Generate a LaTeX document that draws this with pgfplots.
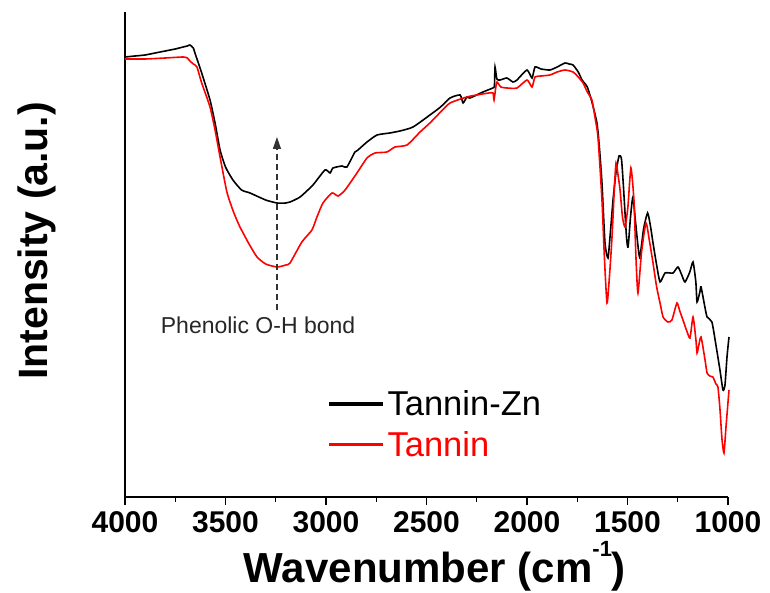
\documentclass[border=0pt]{standalone}
\usepackage{fontspec}
\setmainfont{Liberation Sans}
\usepackage{pgfplots}
\pgfplotsset{compat=1.18}
\usetikzlibrary{arrows.meta}
\begin{document}
\begin{tikzpicture}
\begin{axis}[
  width=603pt, height=485pt, scale only axis,
  xmin=1000, xmax=4000, x dir=reverse,
  ymin=0, ymax=485,
  axis x line*=bottom, axis y line*=left,
  xtick={1000,1500,2000,2500,3000,3500,4000},
  minor x tick num=1,
  ytick=\empty,
  tick align=outside,
  major tick length=8pt, minor tick length=5pt,
  every tick/.style={black, line width=1.2pt},
  axis line style={-, line width=1.3pt},
  /pgf/number format/assume math mode=true,
  /pgf/number format/1000 sep={},
  xticklabel style={font=\fontsize{30}{30}\selectfont\bfseries, yshift=-3pt},
  xlabel={\bfseries Wavenumber (cm\raisebox{0.62em}{\fontsize{22}{22}\selectfont -1})},
  ylabel={\bfseries Intensity (a.u.)},
  xlabel style={font=\fontsize{42}{42}\selectfont, at={(axis description cs:0.514,-0.177)}, anchor=base},
  ylabel style={font=\fontsize{41}{41}\selectfont, at={(axis description cs:-0.146,0.528)}, anchor=center},
  legend style={at={(axis description cs:0.333,0.15)}, anchor=west, draw=none, fill=none,
    font=\fontsize{34.5}{36}\selectfont, cells={anchor=west}, row sep=10pt,
    nodes={inner xsep=5pt}},
  legend image code/.code={\fill[#1] (0pt,-0.85pt) rectangle (52pt,0.85pt);},
  clip=false,
]
\coordinate (SW) at (axis description cs:0,0);
\coordinate (NE) at (axis description cs:1,1);
\addplot[black, line width=1.6pt, smooth, tension=0.35] coordinates {
(4000,440) (3950,441) (3900,442) (3850,444) (3800,446) (3750,448) (3711,450) (3690,451)
(3677,452) (3660,449) (3652,444) (3620,425) (3577,397) (3550,372) (3527,347) (3500,330)
(3463,317) (3420,307) (3378,304) (3300,297) (3244,294) (3200,294) (3179,295) (3129,300)
(3065,312) (3005,327) (2980,324) (2965,329) (2920,331) (2896,330) (2856,345) (2841,347)
(2796,355) (2746,362) (2682,364) (2657,365) (2632,366) (2567,370) (2483,382) (2430,390)
(2383,399) (2333,402) (2318,394) (2299,400) (2284,399) (2219,405) (2170,409) (2162,411)
(2159,430) (2150,418) (2134,417) (2100,419) (2070,415) (2050,417) (2000,427) (1975,419)
(1960,430) (1930,428) (1886,427) (1850,430) (1811,434) (1790,433) (1771,432) (1745,425)
(1726,417) (1700,410) (1677,395) (1652,374) (1640,350) (1627,314) (1612,254) (1597,239)
(1585,265) (1572,297) (1557,325) (1542,341) (1530,338) (1520,310) (1505,260) (1497,250)
(1485,280) (1473,300) (1460,275) (1440,240) (1420,268) (1400,284) (1385,270) (1373,254)
(1355,232) (1338,215) (1313,224) (1274,224) (1249,230) (1230,222) (1214,215) (1190,225)
(1174,235) (1160,215) (1154,195) (1140,205) (1134,210) (1115,190) (1104,180) (1080,175)
(1060,152) (1040,127) (1025,107) (1015,112) (1005,140) (995,160)
};
\addlegendentry{Tannin-Zn}
\addplot[red, line width=1.6pt, smooth, tension=0.35] coordinates {
(4000,438) (3900,438) (3800,439) (3711,440) (3690,439) (3677,436) (3660,433) (3642,430)
(3620,415) (3577,390) (3550,365) (3527,340) (3493,305) (3460,285) (3428,270) (3380,252)
(3343,240) (3300,233) (3244,230) (3200,232) (3179,234) (3120,255) (3070,267) (3045,280)
(3015,294) (2970,304) (2940,301) (2905,307) (2846,324) (2796,339) (2756,344) (2697,345)
(2657,350) (2597,352) (2532,365) (2483,374) (2430,385) (2383,394) (2299,400) (2250,402)
(2190,404) (2169,404) (2164,397) (2155,410) (2149,415) (2130,410) (2100,409) (2050,409)
(2000,417) (1975,410) (1960,420) (1930,421) (1886,422) (1850,425) (1811,427) (1771,425)
(1745,420) (1721,414) (1700,405) (1677,397) (1662,380) (1647,360) (1627,297) (1615,240)
(1602,194) (1590,220) (1577,260) (1565,310) (1557,334) (1547,322) (1537,307) (1525,280)
(1512,270) (1498,290) (1483,329) (1468,297) (1458,240) (1448,204) (1430,245) (1408,274)
(1390,255) (1373,234) (1355,210) (1338,194) (1323,180) (1299,175) (1279,177) (1254,194)
(1240,186) (1224,177) (1205,166) (1189,159) (1174,180) (1160,158) (1154,144) (1145,152)
(1134,160) (1115,138) (1104,124) (1090,121) (1075,120) (1060,113) (1050,110) (1040,88)
(1030,58) (1020,44) (1010,70) (995,107)
};
\addlegendentry{\textcolor{red}{Tannin}}
\draw[black!80, line width=1.3pt, dash pattern=on 6pt off 4pt, -{Triangle[length=12pt,width=8pt]}]
  (axis cs:3244,187) -- (axis cs:3244,360);
\node[font=\fontsize{23}{23}\selectfont, text=black!85] at (axis cs:3338,172) {Phenolic O-H bond};
\end{axis}
\pgfresetboundingbox
\path ([xshift=-125pt,yshift=-95pt]SW) rectangle ([xshift=42pt,yshift=12pt]NE);
\end{tikzpicture}
\end{document}
